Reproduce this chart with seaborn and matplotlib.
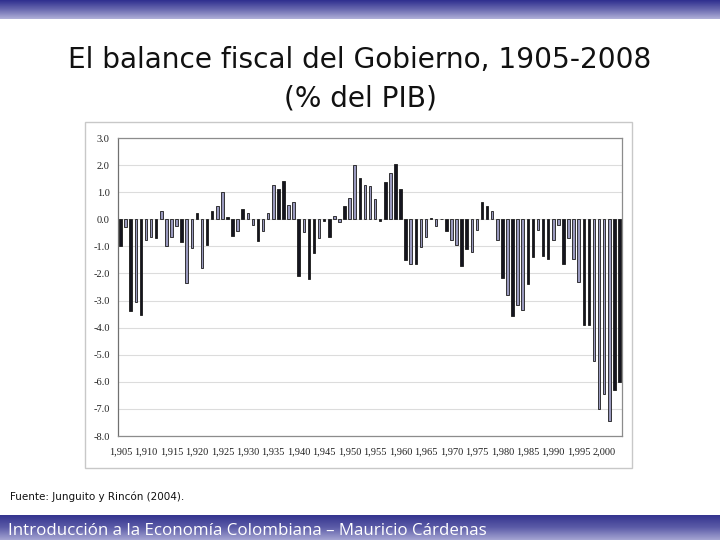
import numpy as np
import pandas as pd
import matplotlib
matplotlib.use('Agg')
import matplotlib.pyplot as plt
import seaborn as sns
from matplotlib.patches import Rectangle

# Balance fiscal del Gobierno (% del PIB), 1905-2003
years = list(range(1905, 2004))
balance = [
    -1.00, -0.30, -3.40, -3.05, -3.55, -0.75, -0.65, -0.70, 0.30, -1.00,
    -0.65, -0.25, -0.85, -2.35, -1.05, 0.25, -1.80, -0.95, 0.30, 0.50,
    1.00, 0.08, -0.62, -0.42, 0.37, 0.25, -0.22, -0.82, -0.45, 0.22,
    1.28, 1.12, 1.42, 0.52, 0.65, -2.10, -0.48, -2.20, -1.26, -0.69,
    -0.05, -0.65, 0.12, -0.10, 0.50, 0.77, 2.00, 1.53, 1.27, 1.21,
    0.74, -0.08, 1.37, 1.70, 2.04, 1.12, -1.50, -1.64, -1.65, -1.04,
    -0.65, 0.06, -0.25, 0.00, -0.45, -0.75, -0.95, -1.72, -1.11, -1.20,
    -0.40, 0.63, 0.50, 0.32, -0.75, -2.18, -2.80, -3.58, -3.15, -3.35,
    -2.40, -1.40, -0.40, -1.35, -1.45, -0.75, -0.20, -1.65, -0.70, -1.45,
    -2.30, -3.90, -3.90, -5.24, -7.00, -6.45, -7.45, -6.30, -6.00,
]
# d = dark bar, l = light (lavender) bar, one letter per year
tones = ("dldldlldll" "lldlldlddl" "lddldlldll" "lddlldlddl" "ddlldlldll"
         "lddldddldl" "ldlldllddl" "lddlldldll" "ddlddlldll" "lddlllldd")
tone_name = {"d": "dark", "l": "light"}

df = pd.DataFrame({"year": years, "value": balance,
                   "tone": [tone_name[t] for t in tones]})

yticks = np.arange(-8, 4, 1)
xlabel_years = list(range(1905, 2001, 5))

sns.set_theme(style="white")
plt.rcParams['font.family'] = ['DejaVu Sans']

fig = plt.figure(figsize=(7.2, 5.4), dpi=100)
fig.patch.set_facecolor("white")

# top banner gradient
band = fig.add_axes([0, 1 - 19 / 540, 1, 19 / 540])
grad = np.linspace(0, 1, 64).reshape(-1, 1)
cmap_top = matplotlib.colors.LinearSegmentedColormap.from_list(
    "top", ["#2f2f8f", "#6a6ab0", "#b0b0d8"])
band.imshow(grad, aspect="auto", cmap=cmap_top, extent=[0, 1, 0, 1])
band.axis("off")

# bottom banner gradient
foot = fig.add_axes([0, 0, 1, 25 / 540])
cmap_bot = matplotlib.colors.LinearSegmentedColormap.from_list(
    "bot", ["#34348f", "#5c5ca8", "#a4a4d2"])
foot.imshow(grad, aspect="auto", cmap=cmap_bot, extent=[0, 1, 0, 1])
foot.axis("off")
foot.text(0.011, 0.36, "Introducción a la Economía Colombiana – Mauricio Cárdenas",
          color="white", fontsize=12.2, ha="left", va="center",
          family=["Open Sans", "DejaVu Sans"], transform=foot.transAxes)

# title
fig.text(0.5, 1 - 60 / 540, "El balance fiscal del Gobierno, 1905-2008",
         ha="center", va="center", fontsize=20.2, color="#111111",
         family=["DejaVu Sans"])
fig.text(0.5, 1 - 98 / 540, "(% del PIB)", ha="center", va="center",
         fontsize=20.2, color="#111111", family=["DejaVu Sans"])

# chart box (pasted image border)
fig.patches.append(Rectangle((85 / 720, 1 - 468 / 540), 547 / 720, 346 / 540,
                             transform=fig.transFigure, fill=False,
                             edgecolor="#c8c8c8", linewidth=1.0))

ax = fig.add_axes([118 / 720, 1 - 436 / 540, 504 / 720, 298 / 540])
sns.barplot(data=df, x="year", y="value", hue="tone", dodge=False,
            palette={"dark": "#141420", "light": "#9393c4"},
            width=0.5, edgecolor="#1a1a1a", linewidth=0.6,
            legend=False, ax=ax)

ax.set_ylim(-8, 3)
ax.set_xlim(-0.5, len(years) - 0.5)
ax.set_yticks(yticks)
ax.set_yticklabels([f"{v:.1f}" for v in yticks], family="Liberation Serif",
                   fontsize=7.5, color="#222222")
ax.set_xticks([years.index(y) for y in xlabel_years])
ax.set_xticklabels([f"{y // 1000},{y % 1000:03d}" for y in xlabel_years],
                   family="Liberation Serif", fontsize=7.5, color="#222222")
ax.tick_params(axis="y", length=0, pad=6)
ax.tick_params(axis="x", length=0, pad=8)
ax.set_xlabel("")
ax.set_ylabel("")
ax.grid(axis="y", color="#dcdcdc", linewidth=0.8)
ax.set_axisbelow(True)
for side in ["top", "right", "bottom"]:
    ax.spines[side].set_color("#8c8c8c")
    ax.spines[side].set_linewidth(0.9)
ax.spines["left"].set_color("#707070")
ax.spines["left"].set_linewidth(0.9)

fig.text(10 / 720, 1 - 497 / 540, "Fuente: Junguito y Rincón (2004).",
         fontsize=7.5, ha="left", va="center", color="#111111",
         family=["DejaVu Sans"])

fig.savefig("out.png", dpi=100)
